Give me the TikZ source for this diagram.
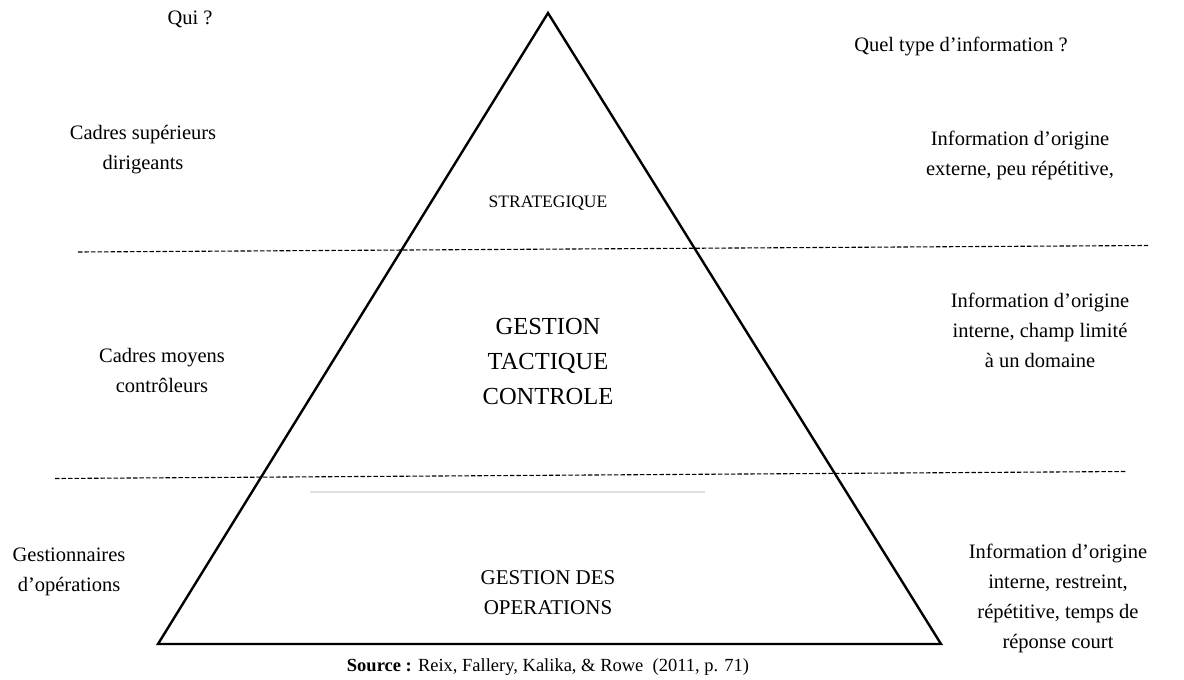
\documentclass[tikz,border=0pt]{standalone}
\usepackage{fontspec}
\setmainfont{Liberation Serif}
\begin{document}
\begin{tikzpicture}[x=1pt,y=-1pt,
  body/.style={font=\fontsize{20.5}{30}\selectfont, align=center, inner sep=0pt},
  midtext/.style={font=\fontsize{24.5}{35}\selectfont, align=center, inner sep=0pt},
  lowtext/.style={font=\fontsize{21}{30}\selectfont, align=center, inner sep=0pt},
  toptext/.style={font=\fontsize{17.5}{20}\selectfont, align=center, inner sep=0pt},
  level/.style={dashed, dash pattern=on 4.5pt off 2pt, line width=1.1pt, black},
  pyramid/.style={line width=2.4pt, line join=miter}]
\useasboundingbox (0,0) rectangle (1184,680);

% pyramid corners
\coordinate (apex) at (548,13);
\coordinate (bl) at (158,644);
\coordinate (br) at (941,644);
\draw[pyramid] (apex) -- (br) -- (bl) -- cycle;

% level separators
\coordinate (s1a) at (78,252);
\coordinate (s1b) at (1148,245.5);
\coordinate (s2a) at (55,478.5);
\coordinate (s2b) at (1127,471.5);
\draw[level] (s1a) -- (s1b);
\draw[level] (s2a) -- (s2b);

% faint rule above the operational level
\coordinate (ga) at (310,492);
\coordinate (gb) at (705,492);
\draw[line width=2.5pt, black!12] (ga) -- (gb);

% column headings
\node[body] (qui) at (190,19) {Qui ?};
\node[body] (quel) at (961,46) {Quel type d’information ?};

% who
\node[body] (who1) at (143,150) {Cadres supérieurs\\dirigeants};
\node[body] (who2) at (162,370) {Cadres moyens\\contrôleurs};
\node[body] (who3) at (69,572) {Gestionnaires\\d’opérations};

% levels
\node[toptext] (lvl1) at (548,203) {STRATEGIQUE};
\node[midtext] (lvl2) at (548,362) {GESTION\\TACTIQUE\\CONTROLE};
\node[lowtext] (lvl3) at (548,593) {GESTION DES\\OPERATIONS};

% information type
\node[body] (inf1) at (1020,155) {Information d’origine\\externe, peu répétitive,};
\node[body] (inf2) at (1040,330) {Information d’origine\\interne, champ limité\\à un domaine};
\node[body] (inf3) at (1058,598) {Information d’origine\\interne, restreint,\\répétitive, temps de\\réponse court};

% reference
\node[body, font=\fontsize{18.5}{22}\selectfont] (src) at (548,667) {\textbf{Source :} Reix, Fallery, Kalika, \& Rowe~ (2011, p. 71)};
\end{tikzpicture}
\end{document}
